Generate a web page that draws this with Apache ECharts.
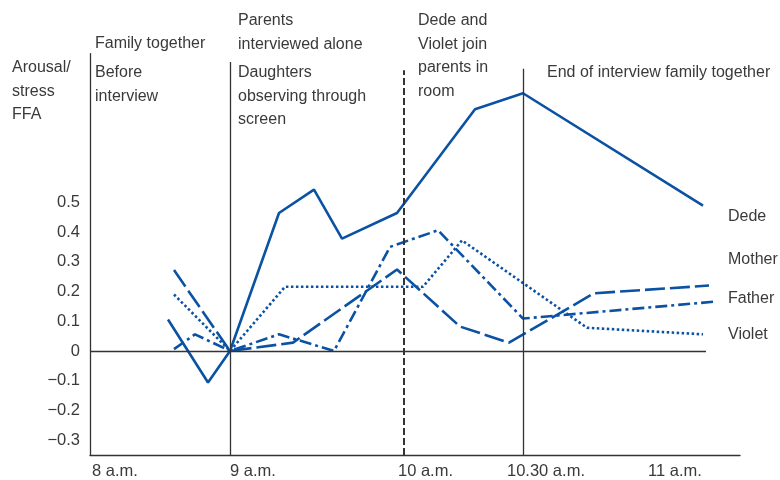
<!DOCTYPE html>
<html>
<head>
<meta charset="utf-8">
<title>Arousal/stress FFA</title>
<script src="https://cdn.jsdelivr.net/npm/echarts@6/dist/echarts.min.js"></script>
<style>
  html, body { margin: 0; padding: 0; background: #fff; }
  #chart { width: 780px; height: 480px; }
</style>
</head>
<body>
<div id="chart"></div>
<script>
// x is a schematic time scale (the original axis is not linear in time)
var xTickValues = [2, 140, 308, 417, 558];
var xTickLabels = ['8 a.m.', '9 a.m.', '10 a.m.', '10.30 a.m.', '11 a.m.'];
var yTickValues = [-0.3, -0.2, -0.1, 0, 0.1, 0.2, 0.3, 0.4, 0.5];

var dedeData = [[78, 0.106], [118, -0.106], [140, 0], [189, 0.464], [224, 0.543], [252, 0.378], [307, 0.464], [385, 0.813], [433, 0.867], [613, 0.489]];
var motherData = [[84, 0.272], [140, 0], [203, 0.028], [307, 0.274], [370, 0.082], [419, 0.028], [504, 0.194], [619, 0.22]];
var fatherData = [[84, 0.006], [105, 0.056], [140, 0], [189, 0.056], [244, 0], [300, 0.35], [348, 0.406], [433, 0.109], [625, 0.166]];
var violetData = [[84, 0.19], [140, 0], [195, 0.216], [333, 0.216], [372, 0.372], [497, 0.078], [613, 0.056]];

// phase markers: x position, top of line, style
var phaseX = [140, 314, 433];
var phaseTop = [0.972, 0.944, 0.949];
var phaseDashed = [false, true, false];

var FONT = '"Liberation Sans", Arial, sans-serif';
var BLUE = '#0b52a3';
var INK = '#3a3a3a';

var chart = echarts.init(document.getElementById('chart'));

var markLines = [];
for (var i = 0; i < phaseX.length; i++) {
  markLines.push([
    { coord: [phaseX[i], -0.35], lineStyle: { color: '#333', width: phaseDashed[i] ? 2 : 1.3, type: phaseDashed[i] ? [7, 3] : 'solid' } },
    { coord: [phaseX[i], phaseTop[i]] }
  ]);
}
markLines.push([
  { coord: [0, 0], lineStyle: { color: '#333', width: 1.3, type: 'solid' } },
  { coord: [616, 0] }
]);

function txt(x, y, s) {
  return {
    type: 'text', left: x, top: y,
    style: { text: s, fill: INK, font: '16px ' + FONT, lineHeight: 23.5 }
  };
}

var option = {
  animation: false,
  backgroundColor: '#fff',
  grid: { left: 90, right: 40, top: 53.7, bottom: 24 },
  xAxis: {
    type: 'value', min: 0, max: 650,
    splitLine: { show: false },
    axisTick: { show: false },
    axisLine: { onZero: false, lineStyle: { color: '#333', width: 1.3 } },
    axisLabel: {
      customValues: xTickValues,
      align: 'left', margin: 8,
      color: INK, fontSize: 16.5, fontFamily: FONT,
      formatter: function (v) { return xTickLabels[xTickValues.indexOf(v)]; }
    }
  },
  yAxis: {
    type: 'value', min: -0.35, max: 1.0,
    splitLine: { show: false },
    axisTick: { show: false },
    axisLine: { show: true, lineStyle: { color: '#333', width: 1.3 } },
    axisLabel: {
      customValues: yTickValues,
      margin: 10,
      color: INK, fontSize: 16.5, fontFamily: FONT,
      formatter: function (v) { return (Math.round(v * 10) / 10).toString().replace('-', '\u2212'); }
    }
  },
  graphic: [
    txt(12, 56, 'Arousal/\nstress\nFFA'),
    txt(95, 32, 'Family together'),
    txt(95, 61, 'Before\ninterview'),
    txt(238, 9, 'Parents\ninterviewed alone'),
    txt(238, 61, 'Daughters\nobserving through\nscreen'),
    txt(418, 9, 'Dede and\nViolet join\nparents in\nroom'),
    txt(547, 61, 'End of interview family together'),
    txt(728, 205, 'Dede'),
    txt(728, 248, 'Mother'),
    txt(728, 287, 'Father'),
    txt(728, 323, 'Violet')
  ],
  series: [
    {
      name: 'phases', type: 'line', data: [], silent: true, z: 1,
      markLine: { silent: true, symbol: 'none', label: { show: false }, data: markLines }
    },
    {
      name: 'Dede', type: 'line', data: dedeData, showSymbol: false, z: 3,
      lineStyle: { color: BLUE, width: 2.6, type: 'solid' }
    },
    {
      name: 'Mother', type: 'line', data: motherData, showSymbol: false, z: 3,
      lineStyle: { color: BLUE, width: 2.6, type: [20, 5] }
    },
    {
      name: 'Father', type: 'line', data: fatherData, showSymbol: false, z: 3,
      lineStyle: { color: BLUE, width: 2.6, type: [12, 4, 3, 4] }
    },
    {
      name: 'Violet', type: 'line', data: violetData, showSymbol: false, z: 3,
      lineStyle: { color: BLUE, width: 2.6, type: [2.5, 2.5] }
    }
  ]
};

chart.setOption(option);
</script>
</body>
</html>
